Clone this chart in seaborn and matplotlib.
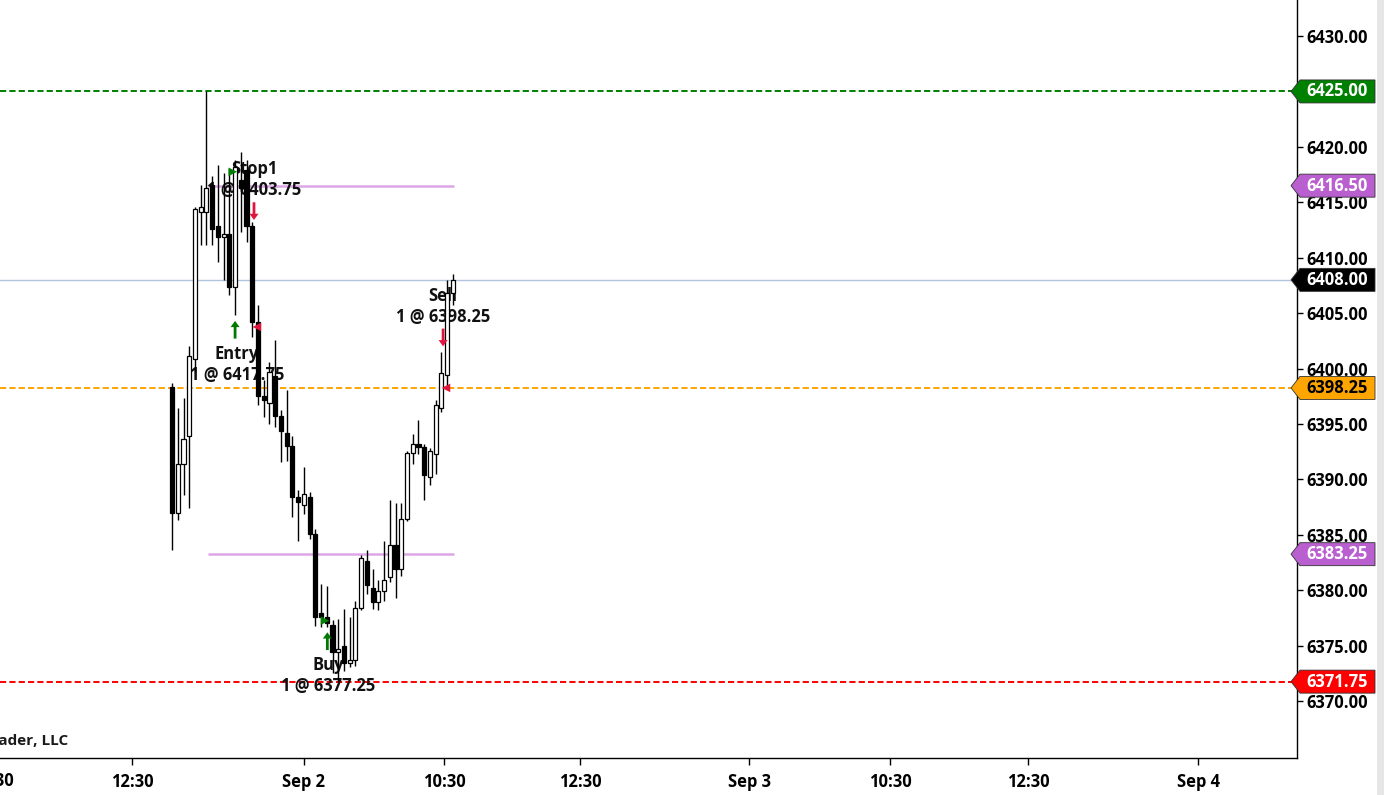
import numpy as np
import pandas as pd
import matplotlib
matplotlib.use("Agg")
import matplotlib.pyplot as plt
import seaborn as sns
from matplotlib.patches import Polygon, Rectangle
import matplotlib.transforms as mtransforms

# ---------------- data ----------------
opens = [6398.3, 6387.0, 6391.4, 6393.9, 6400.9, 6414.1, 6414.1, 6416.6, 6412.9, 6411.9,
         6412.1, 6407.4, 6417.0, 6417.9, 6412.9, 6404.2, 6397.5, 6396.9, 6399.3, 6395.7,
         6394.2, 6393.0, 6388.4, 6387.7, 6388.4, 6385.1, 6377.9, 6377.6, 6376.9, 6374.4,
         6375.0, 6373.4, 6373.7, 6378.4, 6382.6, 6380.2, 6378.9, 6379.9, 6381.2, 6384.1,
         6381.9, 6386.4, 6392.4, 6393.2, 6392.9, 6390.2, 6392.3, 6396.4, 6399.4, 6406.8]
highs = [6398.7, 6396.4, 6397.3, 6402.0, 6414.6, 6416.6, 6425.0, 6417.4, 6418.4, 6417.6,
         6418.0, 6418.8, 6419.5, 6418.8, 6413.2, 6405.7, 6399.0, 6400.6, 6402.6, 6396.3,
         6398.1, 6393.9, 6389.0, 6391.1, 6388.9, 6385.5, 6380.6, 6380.4, 6377.3, 6377.4,
         6378.3, 6377.6, 6379.0, 6383.2, 6383.6, 6381.9, 6380.9, 6384.4, 6388.1, 6387.9,
         6387.9, 6392.6, 6394.1, 6395.4, 6393.2, 6392.8, 6397.2, 6401.5, 6408.0, 6408.5]
lows = [6383.6, 6386.3, 6388.6, 6387.4, 6399.7, 6411.1, 6411.1, 6411.1, 6409.6, 6408.0,
        6406.6, 6404.8, 6412.3, 6411.4, 6402.8, 6396.7, 6395.6, 6395.0, 6394.7, 6391.6,
        6391.7, 6386.6, 6384.4, 6386.9, 6384.6, 6376.8, 6376.7, 6376.7, 6372.5, 6371.75,
        6372.7, 6373.1, 6373.2, 6378.2, 6379.7, 6378.3, 6378.2, 6379.0, 6380.7, 6379.3,
        6381.3, 6386.2, 6391.4, 6392.3, 6388.1, 6389.5, 6390.5, 6396.1, 6398.2, 6405.7]
closes = [6387.0, 6391.4, 6393.6, 6401.1, 6414.4, 6414.6, 6416.3, 6412.6, 6411.9, 6412.1,
          6407.4, 6418.2, 6416.3, 6412.9, 6404.2, 6397.5, 6397.2, 6399.7, 6395.7, 6394.4,
          6393.0, 6388.4, 6388.0, 6388.7, 6385.1, 6377.6, 6377.6, 6377.0, 6374.4, 6374.7,
          6373.4, 6373.7, 6378.4, 6382.9, 6380.5, 6378.9, 6379.9, 6380.9, 6384.1, 6381.9,
          6386.4, 6392.4, 6393.2, 6392.9, 6390.4, 6392.6, 6396.7, 6399.6, 6406.8, 6408.0]

x_tick_pos = [-7.0, 23.0, 47.5, 71.2, 100.7, 125.3, 149.4, 179.1]
x_tick_labels = ["12:30", "Sep 2", "10:30", "12:30", "Sep 3", "10:30", "12:30", "Sep 4"]
cut_tick_pos = -31.4
cut_tick_label = "10:30"

y_ticks = [6370, 6375, 6380, 6385, 6390, 6395, 6400, 6405, 6410, 6415, 6420, 6425, 6430]

full_levels = [6425.00, 6408.00, 6398.25, 6371.75]
full_colors = ["#008000", "#b0c4de", "#ffa500", "#ff0000"]
full_dashed = [True, False, True, True]

bracket_levels = [6416.50, 6383.25]
bracket_span = [6.3, 49.2]

flag_prices = [6425.00, 6416.50, 6408.00, 6398.25, 6383.25, 6371.75]
flag_colors = ["#008000", "#b95fd0", "#000000", "#ffa500", "#b95fd0", "#ff0000"]
flag_text_colors = ["white", "white", "white", "black", "white", "white"]

exec_x = [10.6, 14.8, 26.7, 47.8]
exec_price = [6417.75, 6403.75, 6377.25, 6398.25]
exec_kind = ["buy", "sell", "buy", "sell"]

arrow_x = [11, 14.3, 27.1, 47.3]
arrow_tail = [6402.7, 6415.0, 6374.6, 6403.6]
arrow_tip = [6404.3, 6413.4, 6376.2, 6402.0]
arrow_colors = ["#007a00", "#e0143c", "#007a00", "#e0143c"]

label_x = [14.3, 11.3, 27.2, 47.3]
label_y = [6417.05, 6400.36, 6372.3, 6405.6]
label_text = ["Stop1\n1 @ 6403.75", "Entry\n1 @ 6417.75", "Buy\n1 @ 6377.25", "Sell\n1 @ 6398.25"]

df = pd.DataFrame({"bar": np.arange(len(opens)), "open": opens, "high": highs,
                   "low": lows, "close": closes})

# ---------------- figure ----------------
sns.set_theme(style="white")
plt.rcParams["font.family"] = ["Open Sans", "DejaVu Sans"]
plt.rcParams["font.weight"] = "bold"
FS = 11.9

W, H = 1384, 795
fig = plt.figure(figsize=(W / 100, H / 100), dpi=100)
ax = fig.add_axes([0, (795 - 758) / 795, 1297 / W, 758 / 795])
ax.set_facecolor("white")

ymin, ymax = 6364.86, 6433.25
ax.set_ylim(ymin, ymax)
ax.set_xlim(-30.02, 196.3)
px_per_unit = 758 / (ymax - ymin)

# level lines
for lv, col, dsh in zip(full_levels, full_colors, full_dashed):
    if dsh:
        ax.axhline(lv, color=col, lw=1.4, dashes=(3.2, 1.6), zorder=2)
    else:
        ax.axhline(lv, color=col, lw=1.0, zorder=2)
for lv in bracket_levels:
    ax.hlines(lv, bracket_span[0], bracket_span[1], color="#dda6e6", lw=1.8, zorder=2)

# trade labels (behind candles)
for x, y, t in zip(label_x, label_y, label_text):
    ax.text(x, y, t, ha="center", va="center", fontsize=FS, fontweight="bold",
            color="#111111", linespacing=1.25, zorder=2.5)

# candles
up = df["close"] >= df["open"]
ax.vlines(df["bar"], df["low"], df["high"], color="black", lw=1.0, zorder=3)
body_bottom = np.minimum(df["open"], df["close"])
body_h = np.maximum((df["close"] - df["open"]).abs(), 0.2)
ax.bar(df["bar"][up], body_h[up], bottom=body_bottom[up], width=0.72,
       color="white", edgecolor="black", linewidth=0.9, zorder=4)
ax.bar(df["bar"][~up], body_h[~up], bottom=body_bottom[~up], width=0.72,
       color="black", edgecolor="black", linewidth=0.9, zorder=4)

# execution triangles
ex = pd.DataFrame({"x": exec_x, "p": exec_price, "k": exec_kind})
sns.scatterplot(data=ex[ex.k == "buy"], x="x", y="p", marker=">", s=38, color="#008000",
                edgecolor="none", ax=ax, zorder=5, legend=False)
sns.scatterplot(data=ex[ex.k == "sell"], x="x", y="p", marker="<", s=38, color="#e0143c",
                edgecolor="none", ax=ax, zorder=5, legend=False)

# arrows
for x, t0, t1, c in zip(arrow_x, arrow_tail, arrow_tip, arrow_colors):
    ax.annotate("", xy=(x, t1), xytext=(x, t0),
                arrowprops=dict(width=2.0, headwidth=6.5, headlength=4.5,
                                facecolor=c, edgecolor="none", shrink=0), zorder=6)

# axes styling
for s in ["top", "left"]:
    ax.spines[s].set_visible(False)
ax.spines["bottom"].set_color("black")
ax.spines["right"].set_color("black")
ax.spines["bottom"].set_linewidth(1.0)
ax.spines["right"].set_linewidth(1.0)
ax.yaxis.tick_right()
ax.set_yticks(y_ticks)
ax.set_yticklabels([f"{v:.2f}" for v in y_ticks])
ax.tick_params(axis="y", direction="out", length=4, width=1, pad=3, labelsize=FS,
               colors="black", right=True, left=False)
ax.set_xticks(x_tick_pos)
ax.set_xticklabels(x_tick_labels)
ax.tick_params(axis="x", direction="out", length=5, width=1, pad=6, labelsize=FS,
               colors="black", bottom=True)
for lab in ax.get_xticklabels() + ax.get_yticklabels():
    lab.set_fontweight("bold")
ax.grid(False)
ax.set_xlabel("")
ax.set_ylabel("")

# cut-off tick label at the left edge
ax.text(cut_tick_pos, (758 - 781) / 758,
        cut_tick_label,
        transform=mtransforms.blended_transform_factory(ax.transData, ax.transAxes),
        ha="center", va="center", fontsize=FS, fontweight="bold", color="black",
        clip_on=False)

# watermark
ax.text(68 / 1297, (758 - 741) / 758, "© 2025 NinjaTrader, LLC", transform=ax.transAxes,
        ha="right", va="center", fontsize=11, fontweight="bold", color="#1a1a1a")

# price flags at right
bt = mtransforms.blended_transform_factory(ax.transAxes, ax.transData)
hh = 11.5 / px_per_unit
x_tip = 1291 / 1297
x_l = 1300 / 1297
x_r = 1375 / 1297
for p, c, tc in zip(flag_prices, flag_colors, flag_text_colors):
    poly = Polygon([[x_tip, p], [x_l, p + hh], [x_r, p + hh], [x_r, p - hh], [x_l, p - hh]],
                   closed=True, transform=bt, facecolor=c, edgecolor="#333333", lw=0.6,
                   clip_on=False, zorder=10)
    ax.add_patch(poly)
    ax.text(1337 / 1297, p, f"{p:.2f}", transform=bt, ha="center", va="center",
            fontsize=FS, fontweight="bold", color=tc, clip_on=False, zorder=11)

# right gray strip
fig.patches.append(Rectangle((1377 / W, 0), (W - 1377) / W, 1, transform=fig.transFigure,
                             facecolor="#e6e6e6", edgecolor="none", zorder=0))

fig.savefig("out.png", dpi=100)
